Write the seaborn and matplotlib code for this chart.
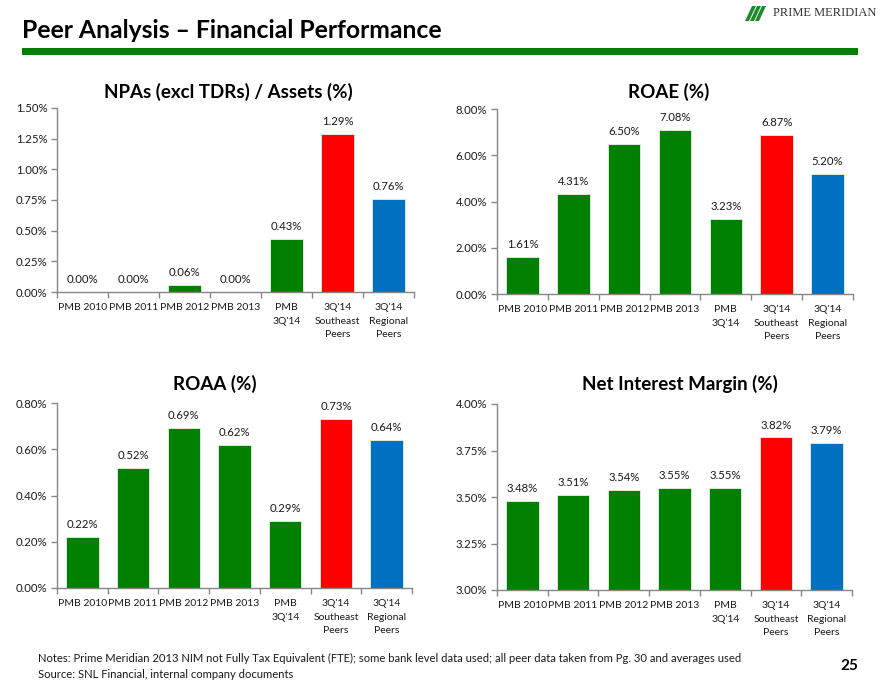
import matplotlib
matplotlib.use("Agg")
import matplotlib.pyplot as plt
import seaborn as sns
import pandas as pd
from matplotlib.ticker import FuncFormatter, FixedLocator
from matplotlib.patches import Polygon

# ---------------- data ----------------
categories = ["PMB 2010", "PMB 2011", "PMB 2012", "PMB 2013",
              "PMB\n3Q'14", "3Q'14\nSoutheast\nPeers", "3Q'14\nRegional\nPeers"]
npas = [0.00, 0.00, 0.06, 0.00, 0.43, 1.29, 0.76]
roae = [1.61, 4.31, 6.50, 7.08, 3.23, 6.87, 5.20]
roaa = [0.22, 0.52, 0.69, 0.62, 0.29, 0.73, 0.64]
nim = [3.48, 3.51, 3.54, 3.55, 3.55, 3.82, 3.79]
bar_colors = ["#008000", "#008000", "#008000", "#008000", "#008000", "#FF0000", "#0070C0"]

panel_titles = ["NPAs (excl TDRs) / Assets (%)", "ROAE (%)", "ROAA (%)", "Net Interest Margin (%)"]
main_title = "Peer Analysis \u2013 Financial Performance"
notes = "Notes: Prime Meridian 2013 NIM not Fully Tax Equivalent (FTE); some bank level data used; all peer data taken from Pg. 30 and averages used"
source = "Source: SNL Financial, internal company documents"
page_no = "25"
logo_text = "PRIME MERIDIAN"

sns.set_style("white")
plt.rcParams["font.family"] = ["Lato", "DejaVu Sans"]

W, H = 880, 682
fig = plt.figure(figsize=(W / 100, H / 100), dpi=100)


def rect(l, r, t, b):
    return [l / W, 1 - b / H, (r - l) / W, (b - t) / H]


panels = [
    (npas, rect(57, 414, 108, 292), (0, 1.5), 0.25, (228, 92)),
    (roae, rect(497, 853, 109, 294), (0, 8.0), 2.0, (669, 92)),
    (roaa, rect(57, 412, 403, 588), (0, 0.8), 0.2, (215, 384)),
    (nim, rect(497, 852, 404, 590), (3.0, 4.0), 0.25, (680, 384)),
]

axis_gray = "#868686"
for (vals, r, ylim, step, tpos), title in zip(panels, panel_titles):
    ax = fig.add_axes(r)
    df = pd.DataFrame({"cat": categories, "val": vals})
    sns.barplot(data=df, x="cat", y="val", hue="cat", palette=bar_colors,
                legend=False, width=0.64, ax=ax, saturation=1,
                edgecolor="#e6f2e6", linewidth=0.6)
    ax.set_ylim(*ylim)
    ax.set_xlim(-0.5, len(categories) - 0.5)
    n = int(round((ylim[1] - ylim[0]) / step))
    ax.yaxis.set_major_locator(FixedLocator([ylim[0] + i * step for i in range(n + 1)]))
    ax.yaxis.set_major_formatter(FuncFormatter(lambda v, p: f"{v:.2f}%"))
    ax.set_xlabel("")
    ax.set_ylabel("")
    for s in ["top", "right"]:
        ax.spines[s].set_visible(False)
    for s in ["left", "bottom"]:
        ax.spines[s].set_color(axis_gray)
        ax.spines[s].set_linewidth(1.0)
    ax.tick_params(axis="y", which="major", direction="out", length=4, width=1,
                   color=axis_gray, labelsize=8.2, labelcolor="#1a1a1a", pad=3, left=True)
    ax.tick_params(axis="x", which="major", length=0, labelsize=7.5,
                   labelcolor="#1a1a1a", pad=8)
    ax.set_xticks(range(len(categories)))
    ax.set_xticklabels(categories, linespacing=1.65, va="top")
    ax.set_xticks([i - 0.5 for i in range(len(categories) + 1)], minor=True)
    ax.tick_params(axis="x", which="minor", direction="out", length=4, width=1,
                   color=axis_gray, bottom=True)
    for i, v in enumerate(vals):
        ax.annotate(f"{v:.2f}%", (i, v), xytext=(0, 5), textcoords="offset points",
                    ha="center", va="bottom", fontsize=8.2, color="#1a1a1a")
    fig.text(tpos[0] / W, 1 - tpos[1] / H, title, ha="center", va="center",
             fontsize=13.5, fontweight="bold", color="#000000")

# header
fig.text(22 / W, 1 - 31 / H, main_title, ha="left", va="center",
         fontsize=17.8, fontweight="bold", color="#000000")
fig.add_artist(plt.Rectangle((22 / W, 1 - 55 / H), (858 - 22) / W, 7 / H,
                             transform=fig.transFigure, color="#008000", lw=0))

# logo
for dx in [0, 5, 10]:
    pts = [(745 + dx, 21), (749 + dx, 21), (756 + dx, 6), (752 + dx, 6)]
    fig.add_artist(Polygon([(x / W, 1 - y / H) for x, y in pts], closed=True,
                           transform=fig.transFigure, color="#1f8a2e", lw=0))
fig.text(876 / W, 1 - 13 / H, logo_text, ha="right", va="center", fontsize=9.0,
         family="Liberation Serif", color="#333333")

# footer
fig.text(38 / W, 1 - 658 / H, notes, ha="left", va="center", fontsize=8.1, color="#1a1a1a")
fig.text(38 / W, 1 - 674 / H, source, ha="left", va="center", fontsize=8.1, color="#1a1a1a")
fig.text(858 / W, 1 - 666 / H, page_no, ha="right", va="center", fontsize=11,
         fontweight="bold", color="#000000")

fig.savefig("out.png", dpi=100)
